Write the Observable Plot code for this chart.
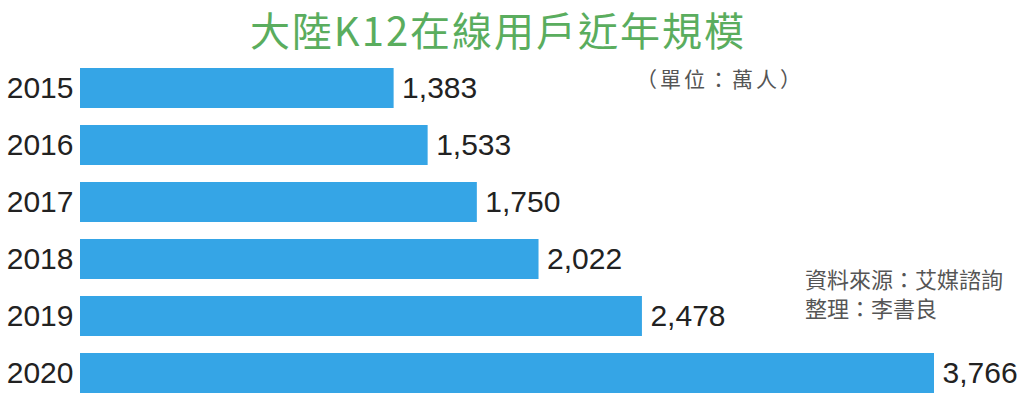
<!DOCTYPE html>
<html>
<head>
<meta charset="utf-8">
<script src="https://cdn.jsdelivr.net/npm/d3@7"></script>
<script src="https://cdn.jsdelivr.net/npm/@observablehq/plot@0.6"></script>
<style>
  html, body { margin: 0; padding: 0; background: #fff; }
  #wrap { position: relative; width: 1024px; height: 401px; overflow: hidden; }
  #title { position: absolute; left: 0; top: 0; width: 1024px; height: 58px; line-height: 58px; text-align: center; font-family: "Noto Sans CJK TC", sans-serif; font-size: 40px; letter-spacing: 2px; color: #5aad5e; padding-right: 28px; box-sizing: border-box; white-space: nowrap; }
  .note { position: absolute; font-family: "Noto Sans CJK TC", sans-serif; color: #555; white-space: nowrap; }
</style>
</head>
<body>
<div id="wrap">
  <div id="title">大陸K12在線用戶近年規模</div>
  <div class="note" style="left:636px; top:63px; font-size:21px; letter-spacing:3px;">（單位：萬人）</div>
  <div class="note" style="left:805px; top:264px; font-size:22px; line-height:29px;">資料來源：艾媒諮詢<br>整理：李書良</div>
  <div id="chart"></div>
</div>
<script>
const years = ["2015", "2016", "2017", "2018", "2019", "2020"];
const users = [1383, 1533, 1750, 2022, 2478, 3766];
const data = years.map((y, i) => ({year: y, value: users[i]}));

const chart = Plot.plot({
  width: 1024,
  height: 345,
  marginLeft: 80,
  marginRight: 90,
  marginTop: 3,
  marginBottom: 0,
  style: {fontFamily: "'Liberation Sans', Arial, sans-serif", background: "transparent"},
  x: {domain: [0, 3766], axis: null},
  y: {domain: years, paddingInner: 0.3, paddingOuter: 0.15, label: null, tickSize: 0, tickPadding: 7},
  marks: [
    Plot.barX(data, {x: "value", y: "year", fill: "#35a5e6"}),
    Plot.text(data, {x: "value", y: "year", text: d => d3.format(",")(d.value), textAnchor: "start", dx: 8, fontSize: 30, fill: "#222"}),
    Plot.axisY({tickSize: 0, tickPadding: 7, fontSize: 30, color: "#222", label: null})
  ]
});
chart.style.position = "absolute";
chart.style.left = "0px";
chart.style.top = "56px";
document.getElementById("chart").appendChild(chart);
</script>
</body>
</html>
